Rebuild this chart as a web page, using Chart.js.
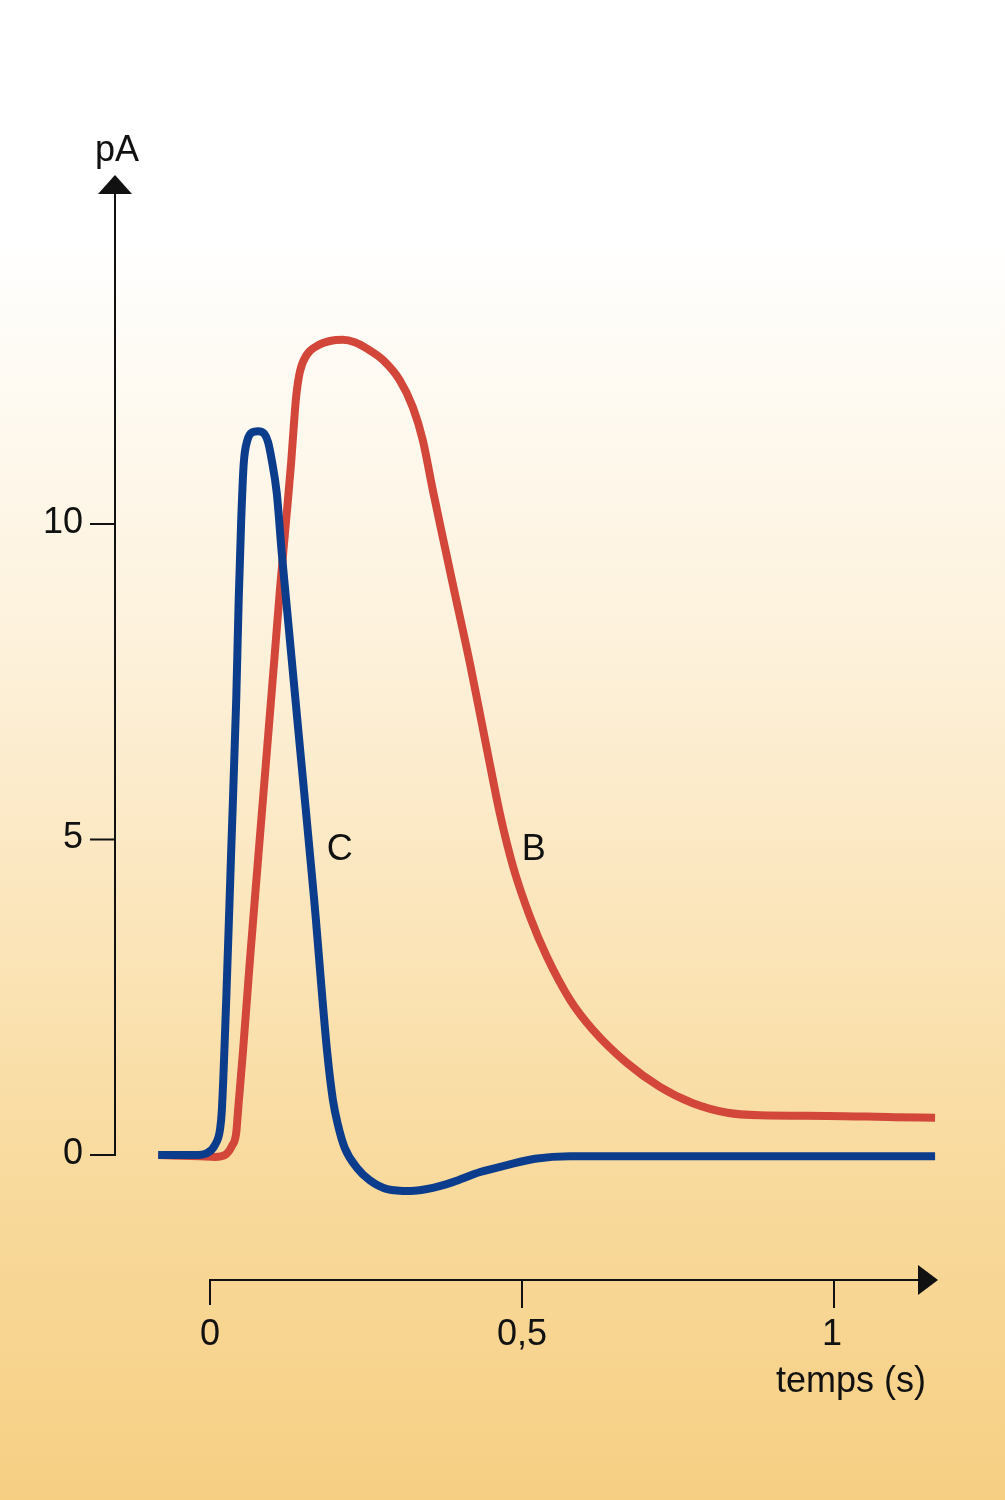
<!DOCTYPE html>
<html>
<head>
<meta charset="utf-8">
<script src="https://cdn.jsdelivr.net/npm/chart.js@4/dist/chart.umd.min.js"></script>
<style>
  html, body { margin: 0; padding: 0; background: #ffffff; }
  #wrap { width: 1005px; height: 1500px; }
</style>
</head>
<body>
<div id="wrap"><canvas id="c" width="1005" height="1500"></canvas></div>
<script>
// ---- data (time in s, current in pA) ----
const timeC = [-0.083, -0.024, -0.005, 0.008, 0.016, 0.019, 0.026, 0.034, 0.042, 0.046, 0.050, 0.054, 0.060, 0.067, 0.077, 0.087, 0.093, 0.099, 0.107, 0.115, 0.125, 0.146, 0.167, 0.1875, 0.197, 0.205, 0.216, 0.236, 0.256, 0.284, 0.3205, 0.357, 0.389, 0.433, 0.476, 0.521, 0.577, 0.785, 1.162];
const currentC = [0, 0, 0.03, 0.16, 0.40, 0.71, 2.46, 4.83, 7.21, 8.80, 10.06, 10.95, 11.33, 11.45, 11.47, 11.43, 11.30, 11.01, 10.49, 9.54, 8.48, 6.26, 4.04, 1.66, 0.87, 0.48, 0.11, -0.21, -0.40, -0.54, -0.57, -0.52, -0.43, -0.27, -0.16, -0.06, -0.02, -0.02, -0.02];

const timeB = [-0.083, -0.016, 0.008, 0.024, 0.035, 0.042, 0.045, 0.053, 0.064, 0.077, 0.090, 0.103, 0.112, 0.122, 0.130, 0.135, 0.138, 0.144, 0.155, 0.171, 0.192, 0.213, 0.232, 0.253, 0.277, 0.304, 0.325, 0.341, 0.357, 0.373, 0.393, 0.417, 0.444, 0.465, 0.486, 0.513, 0.540, 0.577, 0.614, 0.668, 0.721, 0.774, 0.829, 0.881, 0.989, 1.095, 1.162];
const currentB = [0, -0.02, -0.03, 0, 0.14, 0.35, 0.71, 1.66, 3.09, 4.68, 6.26, 7.84, 8.95, 10.06, 10.97, 11.65, 12.01, 12.41, 12.68, 12.82, 12.90, 12.92, 12.88, 12.77, 12.60, 12.28, 11.85, 11.33, 10.54, 9.79, 8.87, 7.77, 6.42, 5.39, 4.56, 3.77, 3.14, 2.46, 1.98, 1.46, 1.08, 0.82, 0.67, 0.63, 0.62, 0.60, 0.59];

const seriesNames = ['C', 'B'];
const seriesLabelTime = [0.208, 0.519];
const seriesLabelCurrent = [4.83, 4.83];

const yTicks = [0, 5, 10];
const yTickLabels = ['0', '5', '10'];
const xTicks = [0, 0.5, 1];
const xTickLabels = ['0', '0,5', '1'];
const yAxisTitle = 'pA';
const xAxisTitle = 'temps (s)';

// ---- styling / placement ----
const BLUE = '#0b3d8c';
const RED = '#d2473a';
const FONT = '"Liberation Sans", Arial, Helvetica, sans-serif';
const yAxisAtTime = -0.1522;   // vertical axis position (in s)
const yAxisTop = 15.53;        // arrow tip (in pA)
const xAxisAtCurrent = -1.981; // horizontal axis position (in pA)
const xAxisEnd = 1.1667;       // arrow tip (in s)

function pts(t, v) { return t.map((x, i) => ({ x: x, y: v[i] })); }

const bgPlugin = {
  id: 'bg',
  beforeDraw(chart) {
    const ctx = chart.ctx;
    const g = ctx.createLinearGradient(0, 0, 0, chart.height);
    g.addColorStop(0, '#ffffff');
    g.addColorStop(0.16, '#ffffff');
    g.addColorStop(0.45, '#fdf0d8');
    g.addColorStop(0.75, '#f9dca2');
    g.addColorStop(1, '#f6cf83');
    ctx.save();
    ctx.fillStyle = g;
    ctx.fillRect(0, 0, chart.width, chart.height);
    ctx.restore();
  }
};

const axesPlugin = {
  id: 'customAxes',
  beforeDatasetsDraw(chart) {
    const ctx = chart.ctx;
    const xs = chart.scales.x, ys = chart.scales.y;
    ctx.save();
    ctx.strokeStyle = '#111';
    ctx.fillStyle = '#111';
    ctx.lineWidth = 2;

    // vertical axis
    const ax = Math.round(xs.getPixelForValue(yAxisAtTime));
    const y0 = ys.getPixelForValue(0);
    const yTip = ys.getPixelForValue(yAxisTop);
    ctx.beginPath();
    ctx.moveTo(ax, y0 + 1);
    ctx.lineTo(ax, yTip + 15);
    ctx.stroke();
    ctx.beginPath();
    ctx.moveTo(ax, yTip);
    ctx.lineTo(ax - 17, yTip + 19);
    ctx.lineTo(ax + 17, yTip + 19);
    ctx.closePath();
    ctx.fill();

    ctx.font = '36px ' + FONT;
    ctx.textAlign = 'right';
    ctx.textBaseline = 'middle';
    yTicks.forEach((v, i) => {
      const py = ys.getPixelForValue(v);
      ctx.beginPath();
      ctx.moveTo(ax - 25, py);
      ctx.lineTo(ax, py);
      ctx.stroke();
      ctx.fillText(yTickLabels[i], ax - 32, py - 1);
    });
    ctx.textAlign = 'center';
    ctx.textBaseline = 'alphabetic';
    ctx.fillText(yAxisTitle, ax + 2, yTip - 14);

    // horizontal axis
    const ay = Math.round(ys.getPixelForValue(xAxisAtCurrent));
    const x0 = xs.getPixelForValue(0);
    const xTip = xs.getPixelForValue(xAxisEnd);
    ctx.beginPath();
    ctx.moveTo(x0 - 1, ay);
    ctx.lineTo(xTip - 15, ay);
    ctx.stroke();
    ctx.beginPath();
    ctx.moveTo(xTip, ay);
    ctx.lineTo(xTip - 20, ay - 15);
    ctx.lineTo(xTip - 20, ay + 15);
    ctx.closePath();
    ctx.fill();

    xTicks.forEach((v, i) => {
      const px = xs.getPixelForValue(v);
      ctx.beginPath();
      ctx.moveTo(px, ay);
      ctx.lineTo(px, ay + (i === 0 ? 25 : 28));
      ctx.stroke();
      ctx.textAlign = 'center';
      ctx.fillText(xTickLabels[i], px - (i === 2 ? 2 : 0), ay + 65);
    });
    ctx.textAlign = 'right';
    ctx.fillText(xAxisTitle, 926, ay + 112);

    // series labels
    ctx.textAlign = 'center';
    ctx.textBaseline = 'middle';
    seriesNames.forEach((n, i) => {
      ctx.fillText(n, xs.getPixelForValue(seriesLabelTime[i]), ys.getPixelForValue(seriesLabelCurrent[i]));
    });
    ctx.restore();
  }
};

new Chart(document.getElementById('c'), {
  type: 'line',
  data: {
    datasets: [
      {
        label: seriesNames[0],
        data: pts(timeC, currentC),
        borderColor: BLUE,
        borderWidth: 8,
        pointRadius: 0,
        cubicInterpolationMode: 'monotone',
        borderCapStyle: 'butt',
        borderJoinStyle: 'round',
        fill: false
      },
      {
        label: seriesNames[1],
        data: pts(timeB, currentB),
        borderColor: RED,
        borderWidth: 8,
        pointRadius: 0,
        cubicInterpolationMode: 'monotone',
        borderCapStyle: 'butt',
        borderJoinStyle: 'round',
        fill: false
      }
    ]
  },
  options: {
    responsive: false,
    animation: false,
    devicePixelRatio: 1,
    events: [],
    layout: { padding: { left: 85.2, right: 46.2, top: 145.4, bottom: 187.25 } },
    plugins: { legend: { display: false }, title: { display: false }, tooltip: { enabled: false } },
    scales: {
      x: { type: 'linear', min: -0.2, max: 1.2, display: false },
      y: { type: 'linear', min: -2.5, max: 16, display: false }
    }
  },
  plugins: [bgPlugin, axesPlugin]
});
</script>
</body>
</html>
